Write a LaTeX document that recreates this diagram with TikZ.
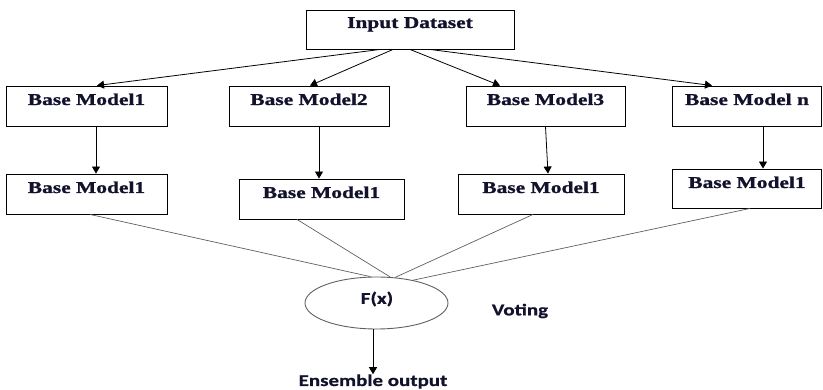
\documentclass[tikz,border=0pt]{standalone}
\usepackage{fontspec}
\usepackage{xcolor}
\usepackage{tikz}
\usetikzlibrary{shapes,arrows.meta,positioning}
\newfontfamily\boxfont[FakeStretch=1.3,BoldFeatures={FakeBold=1.2}]{Liberation Serif}
\newfontfamily\labfont[FakeStretch=1.27,BoldFeatures={FakeBold=0.8}]{Carlito}
\definecolor{ink}{RGB}{18,18,45}
\definecolor{wire}{RGB}{95,95,95}

\begin{document}
\begin{tikzpicture}[x=1pt,y=-1pt,
    model/.style={draw, rectangle, line width=0.9pt, inner sep=0pt, text height=19pt, text depth=21pt,
        font=\boxfont\bfseries\fontsize{16.5}{18}\selectfont, text=ink},
    lab/.style={font=\labfont\bfseries\fontsize{16.5}{18}\selectfont, text=ink, inner sep=0pt},
    arr/.style={-{Triangle[length=7pt,width=8pt]}, line width=0.8pt},
    wire/.style={draw=wire, line width=0.7pt}]
    \useasboundingbox (0,0) rectangle (823,390);

    \node (input) [model, minimum width=208pt, text height=18pt] at (410,29.5) {Input Dataset};

    \node (b1) [model, minimum width=161pt] at (86.5,106) {Base Model1};
    \node (b2) [model, minimum width=160pt] at (309,106) {Base Model2};
    \node (b3) [model, minimum width=159pt] at (545.5,106) {Base Model3};
    \node (bn) [model, minimum width=149pt] at (747,106) {Base Model n};

    \node (c1) [model, minimum width=161pt] at (86.5,194) {Base Model1};
    \node (c2) [model, minimum width=165pt] at (321.5,199) {Base Model1};
    \node (c3) [model, minimum width=166pt] at (541,194) {Base Model1};
    \node (cn) [model, minimum width=149pt, text depth=20pt] at (747,188.5) {Base Model1};

    \node (fx) [ellipse, draw=wire, line width=0.9pt, minimum width=143pt, minimum height=52pt, inner sep=0pt] at (376.5,303) {};
    \node (fxlab) [lab] at (377,299) {F(x)};
    \node (vote) [lab] at (520,311) {Voting};
    \node (out) [lab, anchor=base] at (373,386) {Ensemble output};

    \draw[arr] ([xshift=-30pt]input.south) -- ([xshift=10.5pt]b1.north);
    \draw[arr] ([xshift=-17pt]input.south) -- ([xshift=1pt]b2.north);
    \draw[arr] (input.south) -- ([xshift=-45.5pt]b3.north);
    \draw[arr] ([xshift=20pt]input.south) -- ([xshift=-35pt]bn.north);

    \draw[arr] ([xshift=9.5pt]b1.south) -- ([xshift=9.5pt]c1.north);
    \draw[arr] ([xshift=10pt]b2.south) -- ([xshift=-2.5pt]c2.north);
    \draw[arr] (b3.south) -- ([xshift=7pt]c3.north);
    \draw[arr] ([xshift=16pt]bn.south) -- ([xshift=16pt]cn.north);

    \draw[wire] ([xshift=3.5pt]c1.south) -- (fx.103);
    \draw[wire] ([xshift=-24.5pt]c2.south) -- (fx.62);
    \draw[wire] ([xshift=-8pt]c3.south) -- (fx.54);
    \draw[wire] ([xshift=3pt]cn.south) -- (fx.32);

    \draw[arr] (fx.south -| out) -- (out.north);
\end{tikzpicture}
\end{document}
